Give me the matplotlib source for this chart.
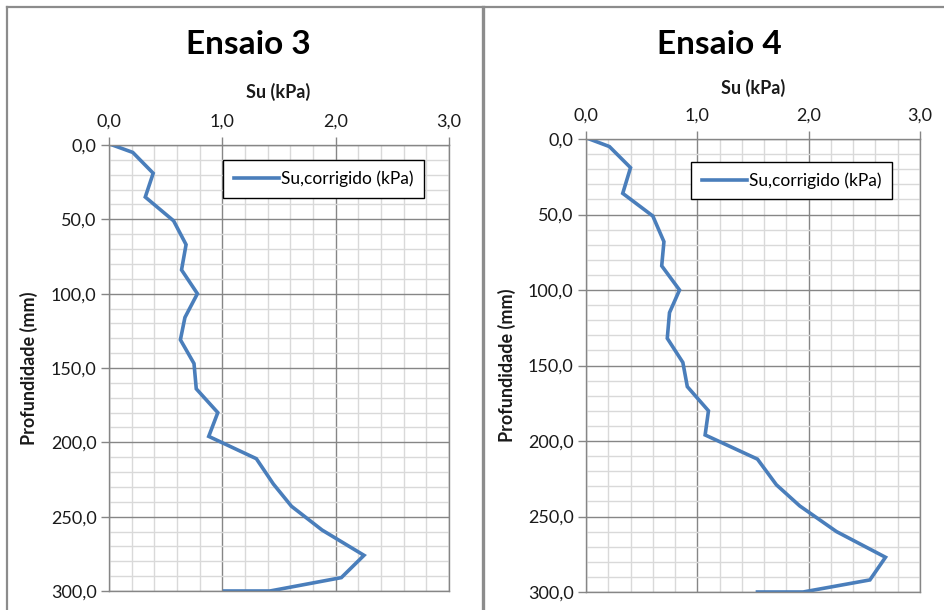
import matplotlib.pyplot as plt
from matplotlib.lines import Line2D
from matplotlib.ticker import MultipleLocator, FuncFormatter

plt.rcParams['font.family'] = ['Lato', 'DejaVu Sans']

# Ensaio 3
depth_3 = [0, 5, 19, 35, 51, 67, 84, 100, 116, 131, 147, 164, 180, 196,
           211, 228, 243, 259, 276, 291, 300, 300]
su_3 = [0.03, 0.21, 0.39, 0.32, 0.57, 0.68, 0.64, 0.78, 0.67, 0.63, 0.75,
        0.77, 0.96, 0.88, 1.30, 1.45, 1.61, 1.88, 2.25, 2.05, 1.42, 1.02]

# Ensaio 4
depth_4 = [0, 5, 19, 36, 51, 68, 84, 100, 115, 132, 148, 164, 180, 196,
           212, 229, 243, 260, 277, 292, 300, 300]
su_4 = [0.03, 0.21, 0.40, 0.33, 0.60, 0.70, 0.68, 0.84, 0.75, 0.73, 0.87,
        0.91, 1.10, 1.07, 1.54, 1.71, 1.92, 2.25, 2.69, 2.55, 1.95, 1.54]

titles = ['Ensaio 3', 'Ensaio 4']
series_label = 'Su,corrigido (kPa)'

W, H = 944, 610
fig = plt.figure(figsize=(W / 100, H / 100), dpi=100)

blue = '#4a7ebb'
major_c = '#868686'
minor_c = '#d9d9d9'
txt_c = '#1a1a1a'

def px(x, y):
    return x / W, 1 - y / H

def comma(v, pos):
    return f'{v:.1f}'.replace('.', ',')

panels = [
    # axes box (x0, y0, x1, y1 in px), title pos, xlabel pos, ylabel x, legend center
    dict(box=(109, 145, 449, 591), title=(248, 45), xlab=(278, 92), ylab=29, leg=(323.5, 179)),
    dict(box=(586, 139, 920, 592), title=(719, 45), xlab=(753, 88), ylab=507, leg=(791.5, 180.5)),
]

for p, su, depth, title in zip(panels, [su_3, su_4], [depth_3, depth_4], titles):
    x0, y0, x1, y1 = p['box']
    ax = fig.add_axes([x0 / W, 1 - y1 / H, (x1 - x0) / W, (y1 - y0) / H])
    ax.plot(su, depth, color=blue, lw=2.6, label=series_label, solid_joinstyle='miter')
    ax.set_xlim(0, 3)
    ax.set_ylim(300, 0)
    ax.xaxis.set_major_locator(MultipleLocator(1.0))
    ax.xaxis.set_minor_locator(MultipleLocator(0.2))
    ax.yaxis.set_major_locator(MultipleLocator(50))
    ax.yaxis.set_minor_locator(MultipleLocator(10))
    ax.xaxis.set_major_formatter(FuncFormatter(comma))
    ax.yaxis.set_major_formatter(FuncFormatter(comma))
    ax.xaxis.tick_top()
    ax.grid(which='major', color=major_c, lw=1)
    ax.grid(which='minor', color=minor_c, lw=1)
    ax.set_axisbelow(True)
    ax.tick_params(which='major', direction='out', length=6, width=1, color=major_c,
                   labelsize=13, labelcolor=txt_c, pad=3)
    ax.tick_params(which='minor', length=0)
    ax.tick_params(axis='x', pad=5)
    for s in ax.spines.values():
        s.set_color(major_c)
        s.set_linewidth(1)

    fig.text(*px(*p['title']), title, ha='center', va='center', fontsize=24,
             fontweight='bold', color='black')
    fig.text(*px(*p['xlab']), 'Su (kPa)', ha='center', va='center', fontsize=13,
             fontweight='bold', color=txt_c)
    fig.text(*px(p['ylab'], (y0 + y1) / 2), 'Profundidade (mm)', ha='center', va='center',
             rotation=90, fontsize=13, fontweight='bold', color=txt_c)

    leg = ax.legend(loc='center', bbox_to_anchor=px(*p['leg']),
                    bbox_transform=fig.transFigure, fontsize=12.5, frameon=True,
                    fancybox=False, edgecolor='black', framealpha=1,
                    handlelength=2.6, handletextpad=0.1, borderpad=0.6)
    leg.get_frame().set_linewidth(1)

# chart area borders
border = '#8c8c8c'
fig.add_artist(Line2D([7 / W, 1], [1 - 7 / H] * 2, color=border, lw=1.6))
fig.add_artist(Line2D([7 / W] * 2, [0, 1 - 7 / H], color=border, lw=1.6))
fig.add_artist(Line2D([483 / W] * 2, [0, 1 - 7 / H], color=border, lw=2.4))

fig.savefig('out.png', dpi=100)
